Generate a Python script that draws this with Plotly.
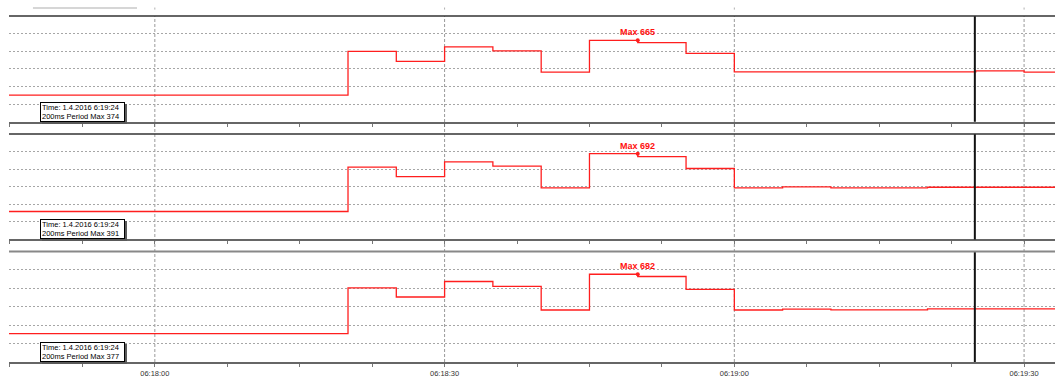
import numpy as np
import pandas as pd
import plotly.graph_objects as go

# ---- data -------------------------------------------------------------
DATE = "2016-04-01"

# start time of each 5 s aggregation step (last entry closes the final step)
step_starts = ["06:17:40", "06:18:20", "06:18:25", "06:18:30", "06:18:35",
               "06:18:40", "06:18:45", "06:18:50", "06:18:55", "06:19:00",
               "06:19:05", "06:19:10", "06:19:15", "06:19:20", "06:19:25",
               "06:19:30", "06:19:35"]

# 200 ms period max per step, one list per channel
channel_1 = [160, 562, 471, 605, 568, 371, 665, 644, 544, 374,
             374, 374, 374, 374, 383, 371, 371]
channel_2 = [173, 571, 486, 618, 580, 386, 692, 665, 559, 386,
             395, 386, 386, 391, 391, 391, 391]
channel_3 = [157, 562, 481, 618, 575, 366, 682, 662, 549, 366,
             374, 368, 368, 377, 377, 377, 377]

# value ranges of the three strips
y_ranges = [(-86, 889), (-78, 869), (-93, 882)]

# visible time window and cursor position
x_window = ["06:17:44.9", "06:19:33.2"]
cursor_time = "06:19:24.9"

# time axis labels
tick_labels = ["06:18:00", "06:18:30", "06:19:00", "06:19:30"]

# ---- figure -------------------------------------------------------------
RED = "#ff1e1e"
times = pd.to_datetime([f"{DATE} {t}" for t in step_starts])
cursor = pd.Timestamp(f"{DATE} {cursor_time}")
cursor_text = (f"{cursor.day}.{cursor.month}.{cursor.year} "
               f"{cursor.hour}:{cursor.minute:02d}:{cursor.second:02d}")
tick_vals = [f"{DATE} {t}" for t in tick_labels]

channels = [channel_1, channel_2, channel_3]
domains = [(0.6943, 1.0), (0.3541, 0.6590), (0.0, 0.3191)]

fig = go.Figure()
shapes = []
annotations = []

# vertical dashed time grid running through all strips
for tv in tick_vals:
    shapes.append(dict(type="line", xref="x", yref="paper", x0=tv, x1=tv,
                       y0=0, y1=1, layer="below",
                       line=dict(color="#9a9a9a", width=1, dash="3px,2px")))
    shapes.append(dict(type="line", xref="x", yref="paper", x0=tv, x1=tv,
                       y0=1.0185, y1=1.0245,
                       line=dict(color="#b0b0b0", width=1)))

# light bar in the top left corner
shapes.append(dict(type="line", xref="paper", yref="paper",
                   x0=0.0229, x1=0.1224, y0=1.0228, y1=1.0228,
                   line=dict(color="#c8c8c8", width=1.5)))

for i, (vals, dom, rng) in enumerate(zip(channels, domains, y_ranges), start=1):
    xa = "x" if i == 1 else f"x{i}"
    ya = "y" if i == 1 else f"y{i}"
    vals = np.asarray(vals)

    fig.add_trace(go.Scatter(
        x=times, y=vals, mode="lines", xaxis=xa, yaxis=ya,
        line=dict(shape="hv", color=RED, width=1.3),
        hoverinfo="skip", showlegend=False))

    # maximum marker at the end of the highest step
    imax = int(np.argmax(vals[:-1]))
    t_max = times[imax + 1]
    v_max = int(vals[imax])
    fig.add_trace(go.Scatter(
        x=[t_max], y=[v_max], mode="markers", xaxis=xa, yaxis=ya,
        marker=dict(color=RED, size=4), hoverinfo="skip", showlegend=False))
    annotations.append(dict(
        x=t_max, y=v_max, xref=xa, yref=ya, text=f"<b>Max {v_max}</b>",
        showarrow=False, yanchor="bottom", yshift=1,
        font=dict(family="Liberation Sans", size=9, color="#ff1010")))

    # value under the cursor
    k = int(np.searchsorted(times.values, cursor.to_datetime64(), side="right") - 1)
    cursor_val = int(vals[k])

    # cursor line
    shapes.append(dict(type="line", xref=xa, yref=f"{ya} domain",
                       x0=cursor, x1=cursor, y0=0, y1=1,
                       line=dict(color="#111111", width=2)))

    # strip top border
    top_col, top_w = ("#888888", 2) if i == 3 else ("#333333", 1.5)
    shapes.append(dict(type="line", xref="paper", yref=f"{ya} domain",
                       x0=0, x1=1, y0=1, y1=1,
                       line=dict(color=top_col, width=top_w)))

    # info box with drop shadow
    box_x = (40 - 9) / 1046
    annotations.append(dict(
        x=box_x, y=0, xref="paper", yref=f"{ya} domain",
        xanchor="left", yanchor="bottom", xshift=2, yshift=-2,
        text=" ", showarrow=False, width=81, height=16, borderpad=2,
        borderwidth=0, bgcolor="#5a5a5a"))
    annotations.append(dict(
        x=box_x, y=0, xref="paper", yref=f"{ya} domain",
        xanchor="left", yanchor="bottom", align="left", valign="middle",
        text=f"Time: {cursor_text}<br>200ms Period Max {cursor_val}",
        showarrow=False, width=81, height=16, borderpad=1,
        borderwidth=1, bordercolor="#000000", bgcolor="#ffffff",
        font=dict(family="Liberation Sans", size=7.5, color="#000000")))

    xaxis = dict(
        domain=[0, 1], anchor=ya, type="date",
        range=[f"{DATE} {x_window[0]}", f"{DATE} {x_window[1]}"],
        showgrid=False, zeroline=False,
        showline=True, linecolor="#666666", linewidth=1.5,
        ticks="outside", ticklen=3, tickcolor="#777777", tickwidth=1,
        tickmode="array", tickvals=tick_vals, ticktext=tick_labels,
        showticklabels=(i == 3),
        tickfont=dict(family="Liberation Sans", size=7.5, color="#333333"),
        minor=dict(dtick=7500, tick0=f"{DATE} 06:18:00", ticks="outside",
                   ticklen=3, tickcolor="#777777", showgrid=False),
    )
    if i > 1:
        xaxis["matches"] = "x"
    yaxis = dict(
        domain=list(dom), anchor=xa, range=list(rng),
        tick0=rng[0], dtick=(rng[1] - rng[0]) / 6,
        showgrid=True, gridcolor="#a6a6a6", gridwidth=1, griddash="2px,2px",
        showticklabels=False, ticks="", zeroline=False, showline=False,
        fixedrange=True,
    )
    fig.layout[f"xaxis{'' if i == 1 else i}"] = xaxis
    fig.layout[f"yaxis{'' if i == 1 else i}"] = yaxis

fig.update_layout(
    width=1055, height=378,
    margin=dict(l=9, r=0, t=16, b=11),
    paper_bgcolor="#ffffff", plot_bgcolor="rgba(0,0,0,0)",
    showlegend=False,
    shapes=shapes, annotations=annotations,
)

fig.write_html("out.html")
